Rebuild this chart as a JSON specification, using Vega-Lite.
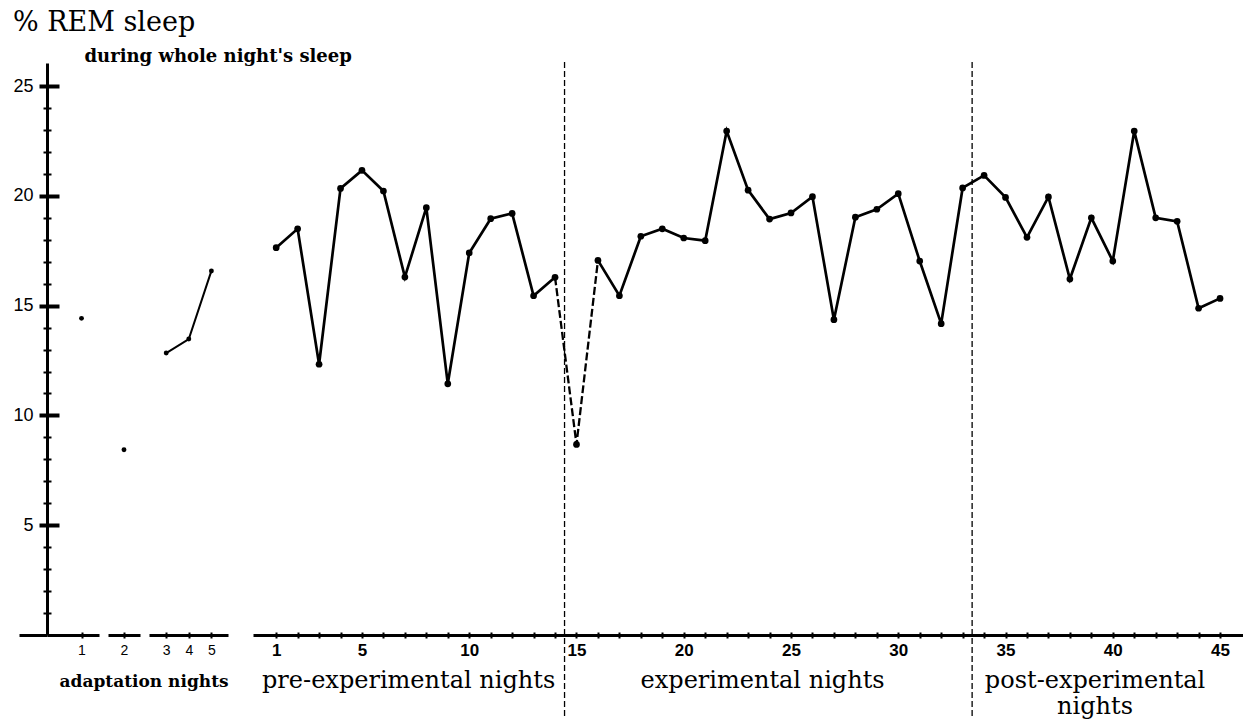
{
  "$schema": "https://vega.github.io/schema/vega-lite/v6.json",
  "background": "white",
  "padding": {"left": 12, "top": 9, "right": 0, "bottom": 0},
  "title": {"text": "% REM sleep", "anchor": "start", "frame": "bounds", "font": "DejaVu Serif", "fontSize": 27, "fontWeight": "normal", "color": "black", "offset": 10},
  "config": {
    "view": {"stroke": null},
    "axis": {"domainColor": "black", "tickColor": "black", "labelColor": "black", "titleColor": "black", "gridColor": "black", "labelOverlap": false, "labelFlush": false}
  },
  "datasets": {
    "adapt": [
      {"night": 1, "rem": 14.42},
      {"night": 2, "rem": 8.44},
      {"night": 3, "rem": 12.84},
      {"night": 4, "rem": 13.48},
      {"night": 5, "rem": 16.58}
    ],
    "main": [
      {"night": 1, "rem": 17.64, "phase": "pre-experimental nights"},
      {"night": 2, "rem": 18.5, "phase": "pre-experimental nights"},
      {"night": 3, "rem": 12.33, "phase": "pre-experimental nights"},
      {"night": 4, "rem": 20.34, "phase": "pre-experimental nights"},
      {"night": 5, "rem": 21.16, "phase": "pre-experimental nights"},
      {"night": 6, "rem": 20.22, "phase": "pre-experimental nights"},
      {"night": 7, "rem": 16.3, "phase": "pre-experimental nights"},
      {"night": 8, "rem": 19.46, "phase": "pre-experimental nights"},
      {"night": 9, "rem": 11.44, "phase": "pre-experimental nights"},
      {"night": 10, "rem": 17.4, "phase": "pre-experimental nights"},
      {"night": 11, "rem": 18.96, "phase": "pre-experimental nights"},
      {"night": 12, "rem": 19.2, "phase": "pre-experimental nights"},
      {"night": 13, "rem": 15.45, "phase": "pre-experimental nights"},
      {"night": 14, "rem": 16.29, "phase": "pre-experimental nights"},
      {"night": 15, "rem": 8.68, "phase": "experimental nights"},
      {"night": 16, "rem": 17.06, "phase": "experimental nights"},
      {"night": 17, "rem": 15.45, "phase": "experimental nights"},
      {"night": 18, "rem": 18.16, "phase": "experimental nights"},
      {"night": 19, "rem": 18.5, "phase": "experimental nights"},
      {"night": 20, "rem": 18.08, "phase": "experimental nights"},
      {"night": 21, "rem": 17.96, "phase": "experimental nights"},
      {"night": 22, "rem": 22.95, "phase": "experimental nights"},
      {"night": 23, "rem": 20.26, "phase": "experimental nights"},
      {"night": 24, "rem": 18.94, "phase": "experimental nights"},
      {"night": 25, "rem": 19.22, "phase": "experimental nights"},
      {"night": 26, "rem": 19.96, "phase": "experimental nights"},
      {"night": 27, "rem": 14.36, "phase": "experimental nights"},
      {"night": 28, "rem": 19.03, "phase": "experimental nights"},
      {"night": 29, "rem": 19.39, "phase": "experimental nights"},
      {"night": 30, "rem": 20.1, "phase": "experimental nights"},
      {"night": 31, "rem": 17.03, "phase": "experimental nights"},
      {"night": 32, "rem": 14.18, "phase": "experimental nights"},
      {"night": 33, "rem": 20.36, "phase": "experimental nights"},
      {"night": 34, "rem": 20.93, "phase": "post-experimental\nnights"},
      {"night": 35, "rem": 19.93, "phase": "post-experimental\nnights"},
      {"night": 36, "rem": 18.11, "phase": "post-experimental\nnights"},
      {"night": 37, "rem": 19.95, "phase": "post-experimental\nnights"},
      {"night": 38, "rem": 16.21, "phase": "post-experimental\nnights"},
      {"night": 39, "rem": 19.0, "phase": "post-experimental\nnights"},
      {"night": 40, "rem": 17.03, "phase": "post-experimental\nnights"},
      {"night": 41, "rem": 22.95, "phase": "post-experimental\nnights"},
      {"night": 42, "rem": 19.0, "phase": "post-experimental\nnights"},
      {"night": 43, "rem": 18.84, "phase": "post-experimental\nnights"},
      {"night": 44, "rem": 14.88, "phase": "post-experimental\nnights"},
      {"night": 45, "rem": 15.33, "phase": "post-experimental\nnights"}
    ]
  },
  "spacing": 9,
  "bounds": "flush",
  "hconcat": [
    {
      "width": 52,
      "height": 572,
      "data": {"name": "adapt"},
      "transform": [{"filter": "datum.night == 1"}],
      "mark": {"type": "point", "filled": true, "size": 24, "color": "black", "opacity": 1},
      "encoding": {
        "x": {
          "field": "night", "type": "quantitative",
          "scale": {"domain": [0, 1.507], "nice": false, "zero": false},
          "axis": {
            "values": [1], "labelFont": "Liberation Sans", "labelFontSize": 14, "labelPadding": 5,
            "tickSize": 3, "tickWidth": 2, "domainWidth": 3,
            "grid": true, "gridDash": [0, 569, 3, 100], "gridWidth": 2,
            "title": "adaptation nights", "titleAngle": 0, "titleAlign": "left", "titleBaseline": "alphabetic",
            "titleX": 12, "titleY": 51, "titleFont": "DejaVu Serif", "titleFontSize": 17, "titleFontWeight": "bold"
          }
        },
        "y": {
          "field": "rem", "type": "quantitative",
          "scale": {"domain": [0, 26.05], "nice": false, "zero": false},
          "axis": {
            "values": [0, 1, 2, 3, 4, 5, 6, 7, 8, 9, 10, 11, 12, 13, 14, 15, 16, 17, 18, 19, 20, 21, 22, 23, 24, 25],
            "labelExpr": "datum.value > 0 && datum.value % 5 === 0 ? datum.label : ''",
            "labelFont": "Liberation Sans", "labelFontSize": 18, "labelPadding": 6,
            "tickSize": {"condition": [{"test": "datum.value === 0", "value": 28}, {"test": "datum.value % 5 === 0", "value": 8}], "value": 4},
            "tickWidth": {"condition": [{"test": "datum.value === 0", "value": 3}, {"test": "datum.value % 5 === 0", "value": 4}], "value": 2},
            "domainWidth": 3,
            "grid": true,
            "gridDash": {"condition": [{"test": "datum.value === 0", "value": [0, 3000]}, {"test": "datum.value % 5 === 0", "value": [12, 3000]}], "value": [4, 3000]},
            "gridWidth": {"condition": {"test": "datum.value % 5 === 0", "value": 4}, "value": 2},
            "title": "during whole night's sleep", "titleAngle": 0, "titleAlign": "left", "titleBaseline": "alphabetic",
            "titleX": 37, "titleY": -2, "titleFont": "DejaVu Serif", "titleFontSize": 18, "titleFontWeight": "bold"
          }
        }
      }
    },
    {
      "width": 32,
      "height": 572,
      "data": {"name": "adapt"},
      "transform": [{"filter": "datum.night == 2"}],
      "mark": {"type": "point", "filled": true, "size": 24, "color": "black", "opacity": 1},
      "encoding": {
        "x": {
          "field": "night", "type": "quantitative",
          "scale": {"domain": [1.5, 2.5], "nice": false, "zero": false},
          "axis": {
            "values": [2], "labelFont": "Liberation Sans", "labelFontSize": 14, "labelPadding": 5,
            "tickSize": 3, "tickWidth": 2, "domainWidth": 3,
            "grid": true, "gridDash": [0, 569, 3, 100], "gridWidth": 2, "title": null
          }
        },
        "y": {
          "field": "rem", "type": "quantitative",
          "scale": {"domain": [0, 26.05], "nice": false, "zero": false},
          "axis": null
        }
      }
    },
    {
      "width": 79,
      "height": 572,
      "data": {"name": "adapt"},
      "transform": [{"filter": "datum.night >= 3"}],
      "encoding": {
        "x": {
          "field": "night", "type": "quantitative",
          "scale": {"domain": [2.239, 5.735], "nice": false, "zero": false},
          "axis": {
            "values": [3, 4, 5], "labelFont": "Liberation Sans", "labelFontSize": 14, "labelPadding": 5,
            "tickSize": 3, "tickWidth": 2, "domainWidth": 3,
            "grid": true, "gridDash": [0, 569, 3, 100], "gridWidth": 2, "title": null
          }
        },
        "y": {
          "field": "rem", "type": "quantitative",
          "scale": {"domain": [0, 26.05], "nice": false, "zero": false},
          "axis": null
        }
      },
      "layer": [
        {"mark": {"type": "line", "color": "black", "strokeWidth": 2}},
        {"mark": {"type": "point", "filled": true, "size": 24, "color": "black", "opacity": 1}}
      ]
    },
    {
      "width": 7,
      "height": 572,
      "data": {"name": "adapt"},
      "mark": {"type": "point", "opacity": 0},
      "encoding": {
        "x": {"field": "night", "type": "quantitative", "axis": null},
        "y": {"field": "rem", "type": "quantitative", "axis": null}
      }
    },
    {
      "width": 990,
      "height": 572,
      "data": {"name": "main"},
      "encoding": {
        "x": {
          "field": "night", "type": "quantitative",
          "scale": {"domain": [-0.08, 46.07], "nice": false, "zero": false},
          "axis": {
            "values": [1, 2, 3, 4, 5, 6, 7, 8, 9, 10, 11, 12, 13, 14, 15, 16, 17, 18, 19, 20, 21, 22, 23, 24, 25, 26, 27, 28, 29, 30, 31, 32, 33, 34, 35, 36, 37, 38, 39, 40, 41, 42, 43, 44, 45],
            "labelExpr": "datum.value === 1 || datum.value % 5 === 0 ? datum.label : ''",
            "labelFont": "Liberation Sans", "labelFontSize": 17, "labelFontWeight": "bold", "labelPadding": 4,
            "tickSize": 3, "tickWidth": 2, "domainWidth": 3,
            "grid": true, "gridDash": [0, 569, 3, 100], "gridWidth": 2, "title": null
          }
        },
        "y": {
          "field": "rem", "type": "quantitative",
          "scale": {"domain": [0, 26.05], "nice": false, "zero": false},
          "axis": null
        }
      },
      "layer": [
        {
          "transform": [{"filter": "datum.night == 14 || datum.night == 33"}],
          "mark": {"type": "rule", "strokeDash": [6, 3], "strokeWidth": 1.3, "color": "black", "xOffset": 9.5},
          "encoding": {
            "y": {"datum": -3.69, "type": "quantitative", "axis": null},
            "y2": {"datum": 26.2}
          }
        },
        {
          "transform": [{"filter": "datum.night <= 14"}],
          "mark": {"type": "line", "color": "black", "strokeWidth": 2.7}
        },
        {
          "transform": [{"filter": "datum.night >= 14 && datum.night <= 16"}],
          "mark": {"type": "line", "color": "black", "strokeWidth": 2.3, "strokeDash": [8, 3]}
        },
        {
          "transform": [{"filter": "datum.night >= 16"}],
          "mark": {"type": "line", "color": "black", "strokeWidth": 2.7}
        },
        {
          "mark": {"type": "point", "filled": true, "size": 45, "color": "black", "opacity": 1}
        },
        {
          "transform": [
            {"joinaggregate": [{"op": "mean", "field": "night", "as": "center"}, {"op": "min", "field": "night", "as": "first"}], "groupby": ["phase"]},
            {"filter": "datum.night === datum.first"}
          ],
          "mark": {"type": "text", "font": "DejaVu Serif", "fontSize": 24, "baseline": "alphabetic", "align": "center", "lineBreak": "\n", "lineHeight": 26, "dx": -7, "color": "black"},
          "encoding": {
            "x": {"field": "center", "type": "quantitative", "title": null},
            "y": {"datum": -2.42, "type": "quantitative", "axis": null},
            "text": {"field": "phase"}
          }
        }
      ]
    }
  ]
}
